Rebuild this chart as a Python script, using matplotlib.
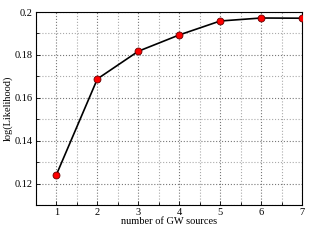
import matplotlib
matplotlib.use("Agg")
import matplotlib.pyplot as plt
from matplotlib.ticker import MultipleLocator

n_sources = [1, 2, 3, 4, 5, 6, 7]
log_likelihood = [0.1242, 0.1688, 0.1817, 0.1893, 0.1958, 0.1972, 0.1971]

plt.rcParams['font.family'] = ['Liberation Serif', 'DejaVu Serif']
fig = plt.figure(figsize=(3.14, 2.42), dpi=100)
ax = fig.add_axes([36/314, 1-205/242, (302-36)/314, (205-12)/242])
ax.plot(n_sources, log_likelihood, color='black', lw=1.2, marker='o',
        markerfacecolor='red', markeredgecolor='#660000', markersize=5, markeredgewidth=0.6, zorder=3)
ax.set_xlim(0.5, 7)
ax.set_ylim(0.11, 0.2)
ax.xaxis.set_major_locator(MultipleLocator(1))
ax.xaxis.set_minor_locator(MultipleLocator(0.5))
ax.yaxis.set_minor_locator(MultipleLocator(0.01))
ax.set_yticks([0.12, 0.14, 0.16, 0.18, 0.2])
ax.set_yticklabels(['0.12', '0.14', '0.16', '0.18', '0.2'])
ax.grid(which='major', color='#777777', linestyle=':', lw=0.8)
ax.grid(which='minor', color='#aaaaaa', linestyle=':', lw=0.8)
ax.tick_params(which='both', direction='in', labelsize=7.5, length=3, width=0.6, pad=2.5)
ax.tick_params(which='minor', length=2)
for s in ax.spines.values():
    s.set_linewidth(0.8)
ax.set_xlabel('number of GW sources', fontsize=7.5, labelpad=0)
ax.set_ylabel('log(Likelihood)', fontsize=7.5)
ax.yaxis.set_label_coords(-23/266, 0.5)
fig.savefig('out.png', dpi=100)
